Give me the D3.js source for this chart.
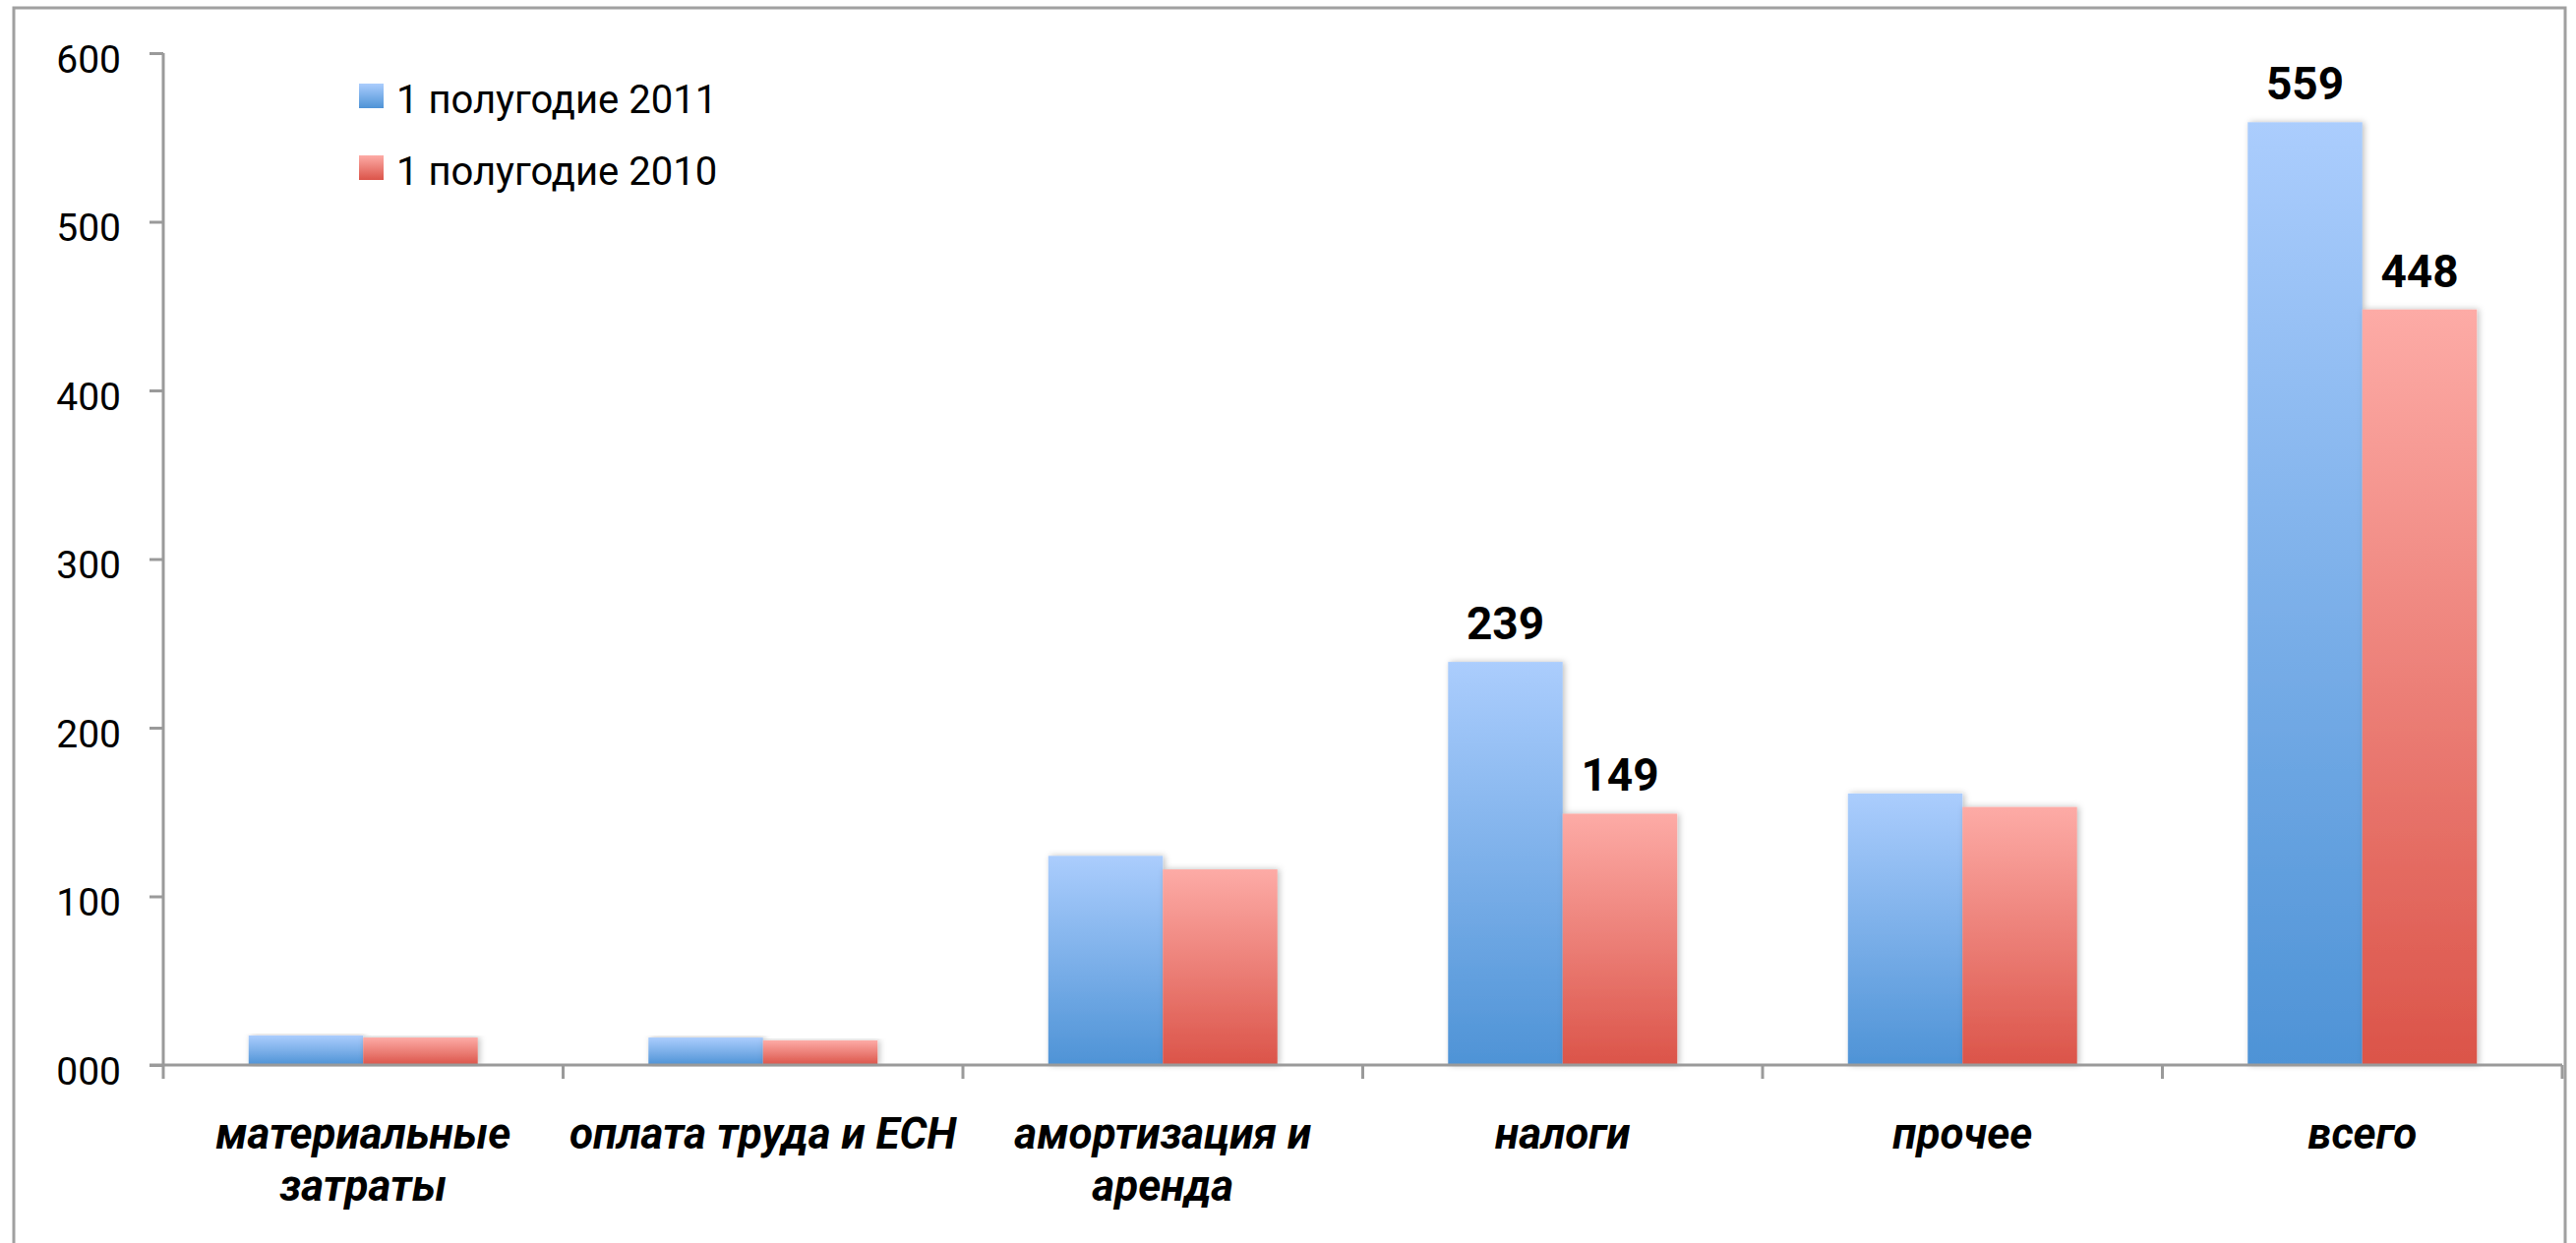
<!DOCTYPE html>
<html>
  <head>
    <meta charset="utf-8">
    <script src="https://d3js.org/d3.v7.min.js"></script>
    <title>Затраты</title>
    <style>
      body {
        margin: 0px;
        background: #fff;
      }
      text {
        font-family: Roboto, "DejaVu Sans", sans-serif;
        fill: #000;
      }
      .tick text {
        font-size: 39px;
      }
      .axis-line {
        stroke: #9a9a9a;
        stroke-width: 3;
      }
      .cat-label {
        font-size: 44px;
        font-weight: bold;
        font-style: italic;
      }
      .value-label {
        font-size: 46px;
        font-weight: bold;
      }
      .legend-text {
        font-size: 40px;
      }
    </style>
  </head>
  <body>
    <svg width="2619" height="1264"></svg>
    <script>
      // categories ("\n" marks where the label wraps)
      const categories = [
        'материальные\nзатраты',
        'оплата труда и ЕСН',
        'амортизация и\nаренда',
        'налоги',
        'прочее',
        'всего'
      ];
      const seriesNames = ['1 полугодие 2011', '1 полугодие 2010'];
      const values2011 = [17.5, 16.3, 124, 239, 161, 559];
      const values2010 = [16.3, 14.6, 116, 149, 153, 448];
      const yTicks = [0, 100, 200, 300, 400, 500, 600];
      // which bars carry a value label
      const labelled = ['налоги', 'всего'];

      const gradients = [
        { id: 'grad2011', top: '#abcdfd', bottom: '#4e93d6' },
        { id: 'grad2010', top: '#fdaba6', bottom: '#db5449' }
      ];

      const svg = d3.select('svg');
      const width = +svg.attr('width');
      const height = +svg.attr('height');

      const plot = { left: 166, right: 2605, top: 54, bottom: 1083 };

      const defs = svg.append('defs');
      gradients.forEach(gr => {
        const lg = defs.append('linearGradient')
            .attr('id', gr.id)
            .attr('x1', 0).attr('y1', 0)
            .attr('x2', 0).attr('y2', 1);
        lg.append('stop').attr('offset', '0%').attr('stop-color', gr.top);
        lg.append('stop').attr('offset', '100%').attr('stop-color', gr.bottom);
      });
      defs.append('filter')
          .attr('id', 'shadow')
          .attr('x', '-20%').attr('y', '-5%')
          .attr('width', '140%').attr('height', '110%')
        .append('feDropShadow')
          .attr('dx', 2).attr('dy', 0)
          .attr('stdDeviation', 3)
          .attr('flood-color', '#000')
          .attr('flood-opacity', 0.25);

      // outer frame (runs off the bottom of the picture)
      svg.append('rect')
          .attr('x', 14).attr('y', 8)
          .attr('width', 2594).attr('height', 1320)
          .attr('fill', 'none')
          .attr('stroke', '#a0a0a0')
          .attr('stroke-width', 3);

      const data = categories.map((c, i) => ({
        category: c,
        values: [values2011[i], values2010[i]]
      }));

      const xScale = d3.scaleBand()
          .domain(categories)
          .range([plot.left, plot.right]);

      const xSub = d3.scaleBand()
          .domain(seriesNames)
          .range([0, xScale.bandwidth()])
          .paddingOuter(0.745);

      const yScale = d3.scaleLinear()
          .domain([0, 600])
          .range([plot.bottom, plot.top]);

      // bars
      const groups = svg.selectAll('.group').data(data)
        .enter().append('g')
          .attr('class', 'group')
          .attr('transform', d => `translate(${xScale(d.category)},0)`);

      groups.selectAll('rect')
        .data(d => d.values.map((v, i) => ({ series: seriesNames[i], value: v, idx: i, category: d.category })))
        .enter().append('rect')
          .attr('x', d => xSub(d.series))
          .attr('y', d => yScale(d.value))
          .attr('width', xSub.bandwidth())
          .attr('height', d => yScale(0) - yScale(d.value))
          .attr('fill', d => `url(#${gradients[d.idx].id})`)
          .attr('filter', 'url(#shadow)');

      groups.selectAll('.value-label')
        .data(d => labelled.includes(d.category)
          ? d.values.map((v, i) => ({ series: seriesNames[i], value: v }))
          : [])
        .enter().append('text')
          .attr('class', 'value-label')
          .attr('x', d => xSub(d.series) + xSub.bandwidth() / 2)
          .attr('y', d => yScale(d.value) - 23)
          .attr('text-anchor', 'middle')
          .text(d => d.value);

      // y axis
      const yAxis = d3.axisLeft(yScale)
          .tickValues(yTicks)
          .tickSize(14)
          .tickPadding(29)
          .tickFormat(d3.format('03d'));

      const yAxisG = svg.append('g')
          .attr('transform', `translate(${plot.left},0)`)
          .call(yAxis);
      yAxisG.select('.domain').remove();
      yAxisG.selectAll('.tick line')
          .attr('stroke', '#9a9a9a')
          .attr('stroke-width', 3);
      yAxisG.selectAll('.tick text')
          .attr('dy', 19)
          .style('font-size', '39px');
      yAxisG.append('line')
          .attr('class', 'axis-line')
          .attr('x1', 0).attr('x2', 0)
          .attr('y1', plot.top).attr('y2', plot.bottom);

      // x axis
      const xAxisG = svg.append('g');
      xAxisG.append('line')
          .attr('class', 'axis-line')
          .attr('x1', plot.left - 14).attr('x2', plot.right)
          .attr('y1', plot.bottom).attr('y2', plot.bottom);

      const boundaries = categories.map(c => xScale(c)).concat([plot.right]);
      xAxisG.selectAll('.x-tick').data(boundaries)
        .enter().append('line')
          .attr('class', 'axis-line x-tick')
          .attr('x1', d => d).attr('x2', d => d)
          .attr('y1', plot.bottom).attr('y2', plot.bottom + 14);

      const catLabels = xAxisG.selectAll('.cat-label').data(categories)
        .enter().append('text')
          .attr('class', 'cat-label')
          .attr('text-anchor', 'middle')
          .attr('transform', d => `translate(${xScale(d) + xScale.bandwidth() / 2},1168)`);
      catLabels.selectAll('tspan')
        .data(d => d.split('\n'))
        .enter().append('tspan')
          .attr('x', 0)
          .attr('y', (d, i) => i * 53)
          .text(d => d);

      // legend
      const legend = svg.append('g')
          .attr('transform', 'translate(365,85)');
      const legendItems = legend.selectAll('.legend-item').data(seriesNames)
        .enter().append('g')
          .attr('class', 'legend-item')
          .attr('transform', (d, i) => `translate(0,${i * 73})`);
      legendItems.append('rect')
          .attr('width', 25)
          .attr('height', 25)
          .attr('fill', (d, i) => `url(#${gradients[i].id})`);
      legendItems.append('text')
          .attr('class', 'legend-text')
          .attr('x', 38)
          .attr('y', 30)
          .text(d => d);
    </script>
  </body>
</html>
